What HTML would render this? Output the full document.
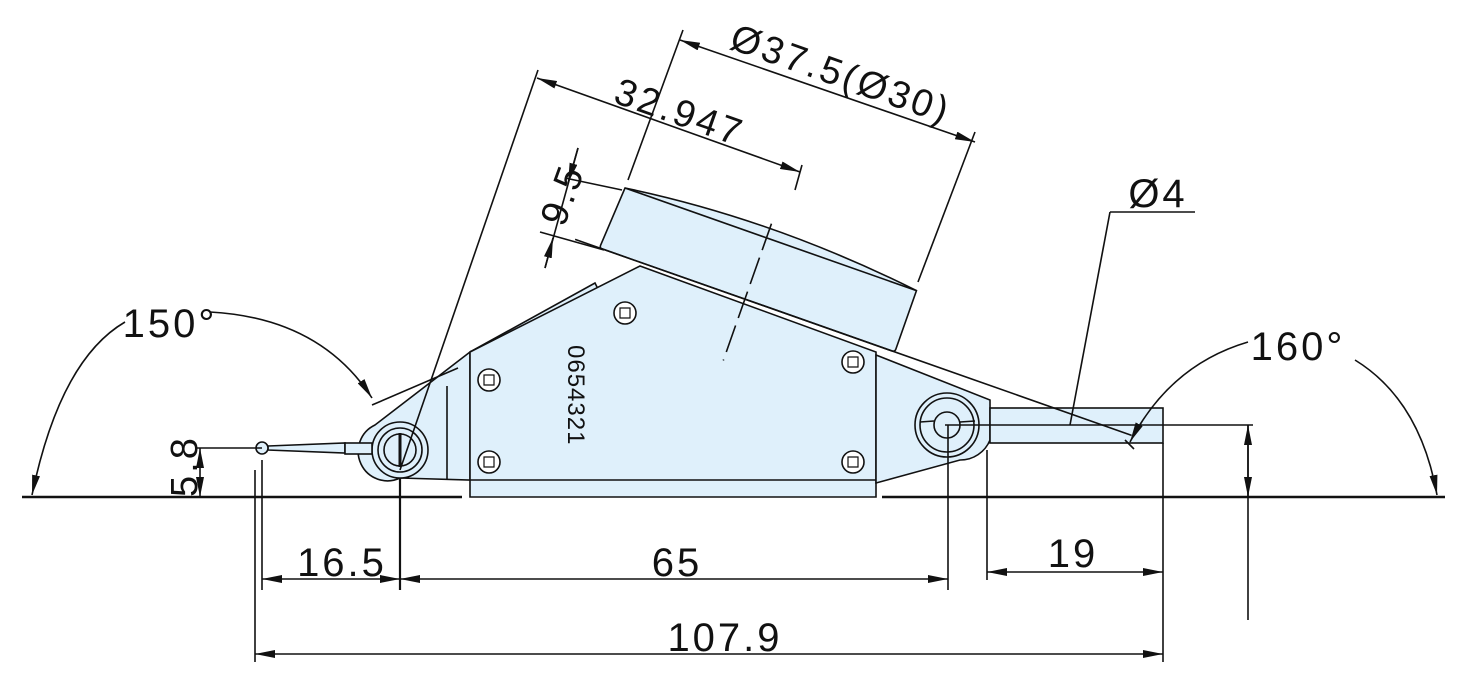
<!DOCTYPE html>
<html><head><style>
html,body{margin:0;padding:0;background:#fff;}
svg{display:block;}
text{font-family:"Liberation Sans",sans-serif;fill:#111;letter-spacing:3px;}
</style></head><body>
<svg width="1464" height="700" viewBox="0 0 1464 700" xmlns="http://www.w3.org/2000/svg">
<defs>
<marker id="a" viewBox="0 0 20 8" refX="20" refY="4" markerWidth="20" markerHeight="8" markerUnits="userSpaceOnUse" orient="auto-start-reverse"><path d="M0,0 L20,4 L0,8 z" fill="#111"/></marker>
</defs>
<g stroke="#111" stroke-width="1.6" fill="none">
<line x1="22" y1="497" x2="462" y2="497" stroke-width="2.5"/>
<line x1="882" y1="497" x2="1445" y2="497" stroke-width="2.5"/>
<path d="M470,352 L375,425 A28,28 0 0 0 400,478 L470,480 Z" fill="#dff0fb"/>
<line x1="447" y1="386" x2="447" y2="480"/>
<path d="M470,352 L595,283 L600,293 L470,362" fill="#dff0fb"/>
<path d="M470,352 L640,266 L876,352 L876,497 L470,497 Z" fill="#dff0fb"/>
<line x1="470" y1="480" x2="876" y2="480"/>
<path d="M876,355 L990,400 L990,440 A32,32 0 0 1 960,460 L876,483 Z" fill="#dff0fb"/>
<rect x="990" y="408" width="173" height="35" fill="#dff0fb"/>
<circle cx="947" cy="425" r="32" fill="#dff0fb"/>
<circle cx="947" cy="425" r="27"/>
<circle cx="947" cy="425" r="13" fill="#dff0fb"/>
<line x1="920" y1="422" x2="934" y2="421"/><line x1="960" y1="422" x2="975" y2="421"/>
<circle cx="400" cy="450" r="28" fill="#dff0fb"/>
<circle cx="400" cy="450" r="22"/>
<circle cx="400" cy="450" r="16"/>
<line x1="400" y1="433" x2="400" y2="467" stroke-width="3"/>
<path d="M268,446 L345,443 L345,453 L268,450 Z" fill="#dff0fb"/>
<rect x="345" y="443" width="27" height="11" fill="#dff0fb"/>
<circle cx="262" cy="448" r="6" fill="#dff0fb"/>
<line x1="195" y1="448" x2="262" y2="448"/>
<g fill="#fff">
<circle cx="625" cy="313" r="11"/><circle cx="853" cy="362" r="11"/>
<circle cx="489" cy="380" r="11"/><circle cx="489" cy="462" r="11"/><circle cx="853" cy="462" r="11"/>
</g>
<g stroke-width="1.2">
<path d="M620,308 L630,308 L630,318 L620,318Z"/><path d="M848,357 L858,357 L858,367 L848,367Z"/>
<path d="M484,375 L494,375 L494,385 L484,385Z"/><path d="M484,457 L494,457 L494,467 L484,467Z"/><path d="M848,457 L858,457 L858,467 L848,467Z"/>
</g>
<g transform="translate(625,188) rotate(19.4)">
<path d="M0,0 Q150,-20 309,0 L309,62 Q309,65 306,65 L-2,65 Q-4,65 -4,62 Z" fill="#dff0fb"/>
<line x1="0" y1="0" x2="309" y2="0"/>
<line x1="-30" y1="65" x2="560" y2="65"/>
<line x1="150" y1="-15" x2="150" y2="130" stroke-dasharray="28,8"/>
</g>
<line x1="945" y1="425" x2="1253" y2="425"/>
<line x1="628" y1="180" x2="683" y2="30"/>
<line x1="918" y1="282" x2="975" y2="132"/>
<line x1="680" y1="40" x2="975" y2="142" marker-start="url(#a)" marker-end="url(#a)"/>
<line x1="400" y1="470" x2="538" y2="70"/>
<line x1="795" y1="190" x2="802" y2="165"/>
<line x1="537" y1="78" x2="800" y2="172" marker-start="url(#a)" marker-end="url(#a)"/>
<line x1="565" y1="178" x2="622" y2="190"/>
<line x1="540" y1="232" x2="604" y2="250"/>
<line x1="578" y1="148" x2="545" y2="268"/>
<line x1="578" y1="148" x2="568" y2="183" marker-end="url(#a)"/>
<line x1="545" y1="268" x2="553" y2="238" marker-end="url(#a)"/>
<line x1="1070" y1="425" x2="1110" y2="212"/>
<line x1="1110" y1="212" x2="1195" y2="212"/>
<line x1="372" y1="405" x2="458" y2="368"/>
<path d="M125,322 Q60,360 32,495" marker-end="url(#a)"/>
<path d="M210,312 Q320,318 372,398" marker-end="url(#a)"/>
<line x1="1125" y1="440" x2="1134" y2="449"/>
<path d="M1248,342 Q1170,365 1130,442" marker-end="url(#a)"/>
<path d="M1355,360 Q1420,400 1437,495" marker-end="url(#a)"/>
<line x1="200" y1="448" x2="200" y2="497" marker-start="url(#a)" marker-end="url(#a)"/>
<line x1="262" y1="460" x2="262" y2="590"/>
<line x1="255" y1="470" x2="255" y2="662"/>
<line x1="400" y1="478" x2="400" y2="590" stroke-width="2.2"/>
<line x1="948" y1="425" x2="948" y2="590"/>
<line x1="987" y1="450" x2="987" y2="580"/>
<line x1="1163" y1="443" x2="1163" y2="662"/>
<line x1="1248" y1="425" x2="1248" y2="620"/>
<line x1="1248" y1="425" x2="1248" y2="497" marker-start="url(#a)" marker-end="url(#a)"/>
<line x1="262" y1="579" x2="400" y2="579" marker-start="url(#a)" marker-end="url(#a)"/>
<line x1="400" y1="579" x2="948" y2="579" marker-start="url(#a)" marker-end="url(#a)"/>
<line x1="987" y1="572" x2="1163" y2="572" marker-start="url(#a)" marker-end="url(#a)"/>
<line x1="255" y1="654" x2="1163" y2="654" marker-start="url(#a)" marker-end="url(#a)"/>
</g>
<g font-size="40" text-anchor="middle">
<text x="342" y="576">16.5</text>
<text x="677" y="576">65</text>
<text x="1073" y="567">19</text>
<text x="725" y="651">107.9</text>
<text x="170" y="337">150°</text>
<text x="1298" y="360">160°</text>
<text x="1158" y="207">Ø4</text>
</g>
<text transform="translate(197,497) rotate(-90)" font-size="38">5.8</text>
<text transform="translate(564,228) rotate(-70)" font-size="38">9.5</text>
<text transform="translate(612,102) rotate(19.4)" font-size="38">32.947</text>
<text transform="translate(728,48) rotate(19.4)" font-size="38">Ø37.5(Ø30)</text>
<text transform="translate(568,345) rotate(90)" font-size="24" style="letter-spacing:1px">0654321</text>
</svg>
</body></html>
